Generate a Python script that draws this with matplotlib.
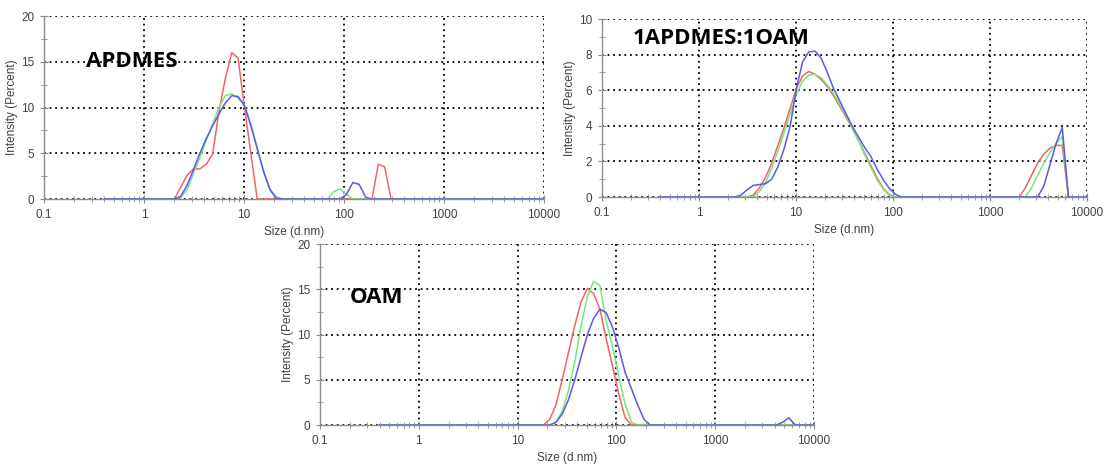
# DLS size distributions (intensity) for APDMES, 1APDMES:1OAM and OAM
# three measurements each, log size axis

import matplotlib
matplotlib.use('Agg')
import matplotlib.pyplot as plt
from matplotlib.ticker import MultipleLocator, LogLocator, NullFormatter


# APDMES
apdmes_red_x = [0.4, 2.010, 2.328, 2.696, 3.122, 3.615, 4.187, 4.849, 5.615, 6.503, 7.531,
                8.721, 10.10, 11.70, 13.54, 190.1, 220.2, 255.0, 295.3, 10000]
apdmes_red_y = [0, 0, 1.3, 2.6, 3.3, 3.3, 3.8, 4.9, 9.6, 13.2, 16.0,
                15.4, 10.0, 5.0, 0, 0, 3.8, 3.5, 0, 0]
apdmes_green_x = [0.4, 2.010, 2.328, 2.696, 3.122, 3.615, 4.187, 4.849, 5.615, 6.503, 7.531,
                  8.721, 10.10, 11.70, 13.54, 15.69, 18.17, 21.04, 24.36, 68.06, 78.82,
                  91.28, 105.7, 122.4, 10000]
apdmes_green_y = [0, 0, 0.2, 1.0, 2.8, 4.5, 6.4, 8.2, 10.0, 11.3, 11.5,
                  11.0, 10.3, 8.2, 5.6, 3.0, 1.1, 0.2, 0, 0, 0.8,
                  1.1, 0.5, 0, 0]
apdmes_blue_x = [0.4, 2.010, 2.328, 2.696, 3.122, 3.615, 4.187, 4.849, 5.615, 6.503, 7.531,
                 8.721, 10.10, 11.70, 13.54, 15.69, 18.17, 21.04, 24.36, 91.28, 105.7,
                 122.4, 141.8, 164.2, 190.1, 10000]
apdmes_blue_y = [0, 0, 0.3, 1.5, 3.2, 5.0, 6.6, 8.0, 9.3, 10.5, 11.3,
                 11.2, 10.2, 8.0, 5.5, 3.0, 1.0, 0.1, 0, 0, 0.5,
                 1.8, 1.6, 0.2, 0, 0]

# 1APDMES:1OAM
mix_red_x = [0.4, 3.122, 3.615, 4.187, 4.849, 5.615, 6.503, 7.531, 8.721, 10.10, 11.70,
             13.54, 15.69, 18.17, 21.04, 24.36, 28.21, 32.67, 37.84, 43.82, 50.75,
             58.77, 68.06, 78.82, 91.28, 105.7, 1990, 2305, 2669, 3091, 3580,
             4145, 4801, 5560, 6439, 10000]
mix_red_y = [0, 0, 0.1, 0.5, 1.1, 1.9, 2.9, 3.9, 5.0, 6.1, 6.8,
             7.05, 6.9, 6.6, 6.2, 5.7, 5.1, 4.5, 3.9, 3.2, 2.5,
             1.8, 1.1, 0.5, 0.15, 0, 0, 0.5, 1.2, 1.9, 2.4,
             2.75, 2.9, 2.9, 0, 0]
mix_green_x = [0.4, 3.615, 4.187, 4.849, 5.615, 6.503, 7.531, 8.721, 10.10, 11.70,
               13.54, 15.69, 18.17, 21.04, 24.36, 28.21, 32.67, 37.84, 43.82, 50.75,
               58.77, 68.06, 78.82, 91.28, 105.7, 2305, 2669, 3091, 3580,
               4145, 4801, 5560, 6439, 10000]
mix_green_y = [0, 0, 0.3, 0.8, 1.6, 2.6, 3.6, 4.7, 5.8, 6.5,
               6.85, 6.9, 6.7, 6.3, 5.8, 5.2, 4.6, 3.9, 3.2, 2.4,
               1.7, 1.0, 0.45, 0.1, 0, 0, 0.5, 1.2, 1.9,
               2.5, 3.0, 3.4, 0, 0]
mix_blue_x = [0.4, 2.328, 2.696, 3.122, 3.615, 4.187, 4.849, 5.615, 6.503, 7.531, 8.721,
              10.10, 11.70, 13.54, 15.69, 18.17, 21.04, 24.36, 28.21, 32.67, 37.84,
              43.82, 50.75, 58.77, 68.06, 78.82, 91.28, 105.7, 122.4, 3091, 3580,
              4145, 4801, 5560, 6439, 10000]
mix_blue_y = [0, 0, 0.1, 0.4, 0.65, 0.7, 0.75, 1.0, 1.7, 2.7, 4.0,
              6.1, 7.6, 8.15, 8.2, 7.8, 7.0, 6.1, 5.4, 4.7, 4.0,
              3.4, 2.8, 2.3, 1.6, 1.0, 0.5, 0.15, 0, 0, 0.6,
              1.8, 3.0, 3.9, 0, 0]

# OAM
oam_red_x = [0.4, 18.17, 21.04, 24.36, 28.21, 32.67, 37.84, 43.82, 50.75, 58.77, 68.06,
             78.82, 91.28, 105.7, 122.4, 141.8, 10000]
oam_red_y = [0, 0, 0.6, 2.2, 5.0, 8.0, 11.0, 13.6, 15.1, 14.5, 12.8,
             9.5, 6.5, 3.4, 0.8, 0, 0]
oam_green_x = [0.4, 21.04, 24.36, 28.21, 32.67, 37.84, 43.82, 50.75, 58.77, 68.06, 78.82,
               91.28, 105.7, 122.4, 141.8, 164.2, 10000]
oam_green_y = [0, 0, 0.3, 1.5, 3.8, 7.0, 11.0, 14.2, 15.9, 15.4, 11.5,
               8.6, 5.3, 2.3, 0.3, 0, 0]
oam_blue_x = [0.4, 21.04, 24.36, 28.21, 32.67, 37.84, 43.82, 50.75, 58.77, 68.06, 78.82,
              91.28, 105.7, 122.4, 141.8, 164.2, 190.1, 220.2, 4145, 4801, 5560,
              6439, 10000]
oam_blue_y = [0, 0, 0.3, 1.2, 2.8, 5.0, 7.5, 10.0, 11.8, 12.8, 12.4,
              10.8, 8.5, 5.8, 4.0, 2.2, 0.6, 0, 0, 0.3, 0.8,
              0, 0]

x_ticks = [0.1, 1, 10, 100, 1000, 10000]
x_tick_labels = ['0.1', '1', '10', '100', '1000', '10000']

RED = '#f06464'
GREEN = '#78e678'
BLUE = '#5a5ae6'
AXIS = '#8c8c8c'
TEXT = '#404040'


def draw_panel(ax, series, ymax, ystep, name, name_x, name_y):
    for x, y, c in series:
        ax.plot(x, y, color=c, linewidth=1.1)
    ax.set_xscale('log')
    ax.set_xlim(0.1, 10000)
    ax.set_ylim(0, ymax)
    ax.set_xticks(x_ticks)
    ax.set_xticklabels(x_tick_labels)
    ax.xaxis.set_minor_locator(LogLocator(base=10, subs=range(2, 10)))
    ax.xaxis.set_minor_formatter(NullFormatter())
    ax.yaxis.set_major_locator(MultipleLocator(ystep))
    ax.yaxis.set_minor_locator(MultipleLocator(ystep / 2))
    # dotted black grid, also closes the top and right of the frame
    ax.grid(which='major', color='black', linestyle=(0, (1, 2.1)), linewidth=1.3)
    for s in ['top', 'right']:
        ax.spines[s].set_visible(False)
    for s in ['left', 'bottom']:
        ax.spines[s].set_color(AXIS)
        ax.spines[s].set_linewidth(1.0)
    ax.tick_params(which='major', direction='inout', length=6, color=AXIS,
                   labelsize=8.5, labelcolor=TEXT, pad=4)
    ax.tick_params(which='minor', direction='inout', length=5, color=AXIS)
    ax.set_xlabel('Size (d.nm)', fontsize=8.5, color=TEXT, labelpad=4)
    ax.set_ylabel('Intensity (Percent)', fontsize=8.5, color=TEXT, labelpad=2)
    ax.text(name_x, name_y, name, transform=ax.transAxes, fontsize=16,
            fontweight='bold', family='Open Sans', va='center', ha='left')


plt.rcParams['font.family'] = ['Liberation Sans', 'DejaVu Sans']
fig = plt.figure(figsize=(11.04, 4.65), dpi=100)

ax1 = fig.add_axes([0.0399, 0.572, 0.4529, 0.3935])
draw_panel(ax1, [(apdmes_red_x, apdmes_red_y, RED),
                 (apdmes_green_x, apdmes_green_y, GREEN),
                 (apdmes_blue_x, apdmes_blue_y, BLUE)],
           20, 5, 'APDMES', 0.084, 0.75)

ax2 = fig.add_axes([0.5453, 0.5763, 0.4393, 0.3828])
draw_panel(ax2, [(mix_red_x, mix_red_y, RED),
                 (mix_green_x, mix_green_y, GREEN),
                 (mix_blue_x, mix_blue_y, BLUE)],
           10, 2, '1APDMES:1OAM', 0.064, 0.888)

ax3 = fig.add_axes([0.2899, 0.086, 0.4475, 0.3892])
draw_panel(ax3, [(oam_red_x, oam_red_y, RED),
                 (oam_green_x, oam_green_y, GREEN),
                 (oam_blue_x, oam_blue_y, BLUE)],
           20, 5, 'OAM', 0.061, 0.707)

fig.savefig('out.png', dpi=100)
